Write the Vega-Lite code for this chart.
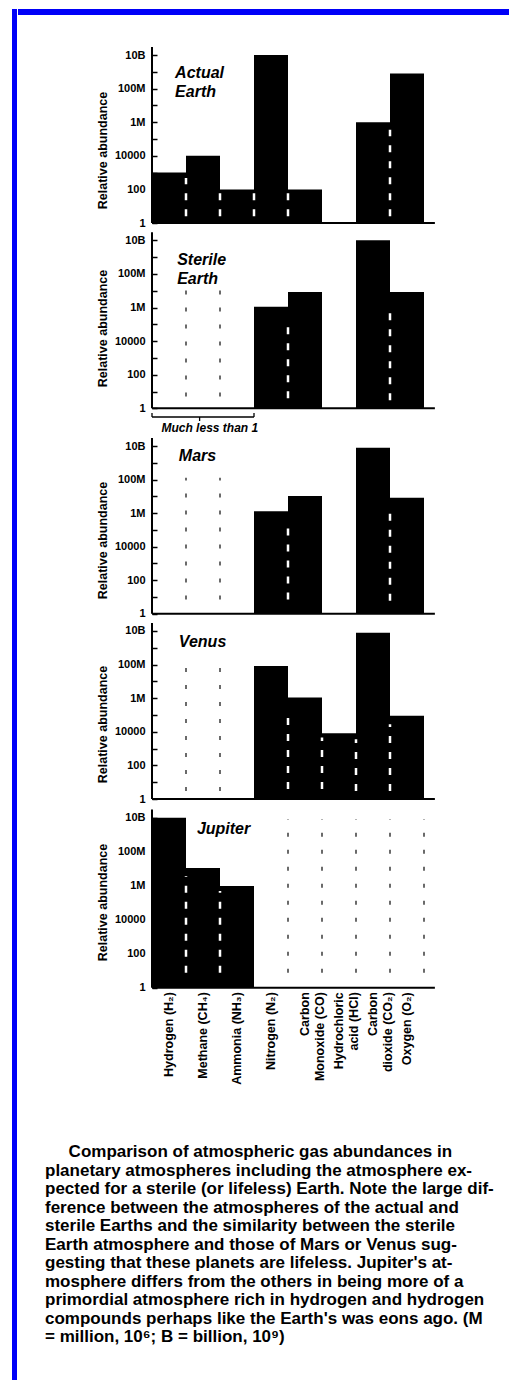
{
  "$schema": "https://vega.github.io/schema/vega-lite/v6.json",
  "background": "#ffffff",
  "padding": {"left": 11, "top": 9, "right": 0, "bottom": 1},
  "autosize": {"type": "pad"},
  "datasets": {
    "bars": [
      {"planet": "Actual Earth", "gas": "Hydrogen (H₂)", "value": 1000},
      {"planet": "Actual Earth", "gas": "Methane (CH₄)", "value": 10000},
      {"planet": "Actual Earth", "gas": "Ammonia (NH₃)", "value": 100},
      {"planet": "Actual Earth", "gas": "Nitrogen (N₂)", "value": 1e10},
      {"planet": "Actual Earth", "gas": "Carbon Monoxide (CO)", "value": 100},
      {"planet": "Actual Earth", "gas": "Carbon dioxide (CO₂)", "value": 1000000},
      {"planet": "Actual Earth", "gas": "Oxygen (O₂)", "value": 800000000},
      {"planet": "Sterile Earth", "gas": "Nitrogen (N₂)", "value": 1100000},
      {"planet": "Sterile Earth", "gas": "Carbon Monoxide (CO)", "value": 8500000},
      {"planet": "Sterile Earth", "gas": "Carbon dioxide (CO₂)", "value": 1e10},
      {"planet": "Sterile Earth", "gas": "Oxygen (O₂)", "value": 8500000},
      {"planet": "Mars", "gas": "Nitrogen (N₂)", "value": 1300000},
      {"planet": "Mars", "gas": "Carbon Monoxide (CO)", "value": 10500000},
      {"planet": "Mars", "gas": "Carbon dioxide (CO₂)", "value": 8000000000},
      {"planet": "Mars", "gas": "Oxygen (O₂)", "value": 8300000},
      {"planet": "Venus", "gas": "Nitrogen (N₂)", "value": 83000000},
      {"planet": "Venus", "gas": "Carbon Monoxide (CO)", "value": 1100000},
      {"planet": "Venus", "gas": "Hydrochloric acid (HCl)", "value": 8300},
      {"planet": "Venus", "gas": "Carbon dioxide (CO₂)", "value": 8000000000},
      {"planet": "Venus", "gas": "Oxygen (O₂)", "value": 90000},
      {"planet": "Jupiter", "gas": "Hydrogen (H₂)", "value": 1e10},
      {"planet": "Jupiter", "gas": "Methane (CH₄)", "value": 11000000},
      {"planet": "Jupiter", "gas": "Ammonia (NH₃)", "value": 950000}
    ],
    "dashes": [
      {"planet": "Actual Earth", "gas": "Methane (CH₄)", "edge": "left", "low": 2.5, "high": 470, "kind": "inside"},
      {"planet": "Actual Earth", "gas": "Ammonia (NH₃)", "edge": "left", "low": 2.5, "high": 60, "kind": "inside"},
      {"planet": "Actual Earth", "gas": "Nitrogen (N₂)", "edge": "left", "low": 2.5, "high": 60, "kind": "inside"},
      {"planet": "Actual Earth", "gas": "Carbon Monoxide (CO)", "edge": "left", "low": 2.5, "high": 60, "kind": "inside"},
      {"planet": "Actual Earth", "gas": "Oxygen (O₂)", "edge": "left", "low": 2.5, "high": 350000, "kind": "inside"},
      {"planet": "Sterile Earth", "gas": "Methane (CH₄)", "edge": "left", "low": 5, "high": 17000000, "kind": "empty"},
      {"planet": "Sterile Earth", "gas": "Ammonia (NH₃)", "edge": "left", "low": 5, "high": 17000000, "kind": "empty"},
      {"planet": "Sterile Earth", "gas": "Carbon Monoxide (CO)", "edge": "left", "low": 4, "high": 180000, "kind": "inside"},
      {"planet": "Sterile Earth", "gas": "Oxygen (O₂)", "edge": "left", "low": 3, "high": 1400000, "kind": "inside"},
      {"planet": "Mars", "gas": "Methane (CH₄)", "edge": "left", "low": 7, "high": 130000000, "kind": "empty"},
      {"planet": "Mars", "gas": "Ammonia (NH₃)", "edge": "left", "low": 7, "high": 130000000, "kind": "empty"},
      {"planet": "Mars", "gas": "Carbon Monoxide (CO)", "edge": "left", "low": 7, "high": 400000, "kind": "inside"},
      {"planet": "Mars", "gas": "Oxygen (O₂)", "edge": "left", "low": 6, "high": 2000000, "kind": "inside"},
      {"planet": "Venus", "gas": "Methane (CH₄)", "edge": "left", "low": 3, "high": 100000000, "kind": "empty"},
      {"planet": "Venus", "gas": "Ammonia (NH₃)", "edge": "left", "low": 3, "high": 100000000, "kind": "empty"},
      {"planet": "Venus", "gas": "Carbon Monoxide (CO)", "edge": "left", "low": 4, "high": 220000, "kind": "inside"},
      {"planet": "Venus", "gas": "Hydrochloric acid (HCl)", "edge": "left", "low": 4, "high": 4600, "kind": "inside"},
      {"planet": "Venus", "gas": "Carbon dioxide (CO₂)", "edge": "left", "low": 3, "high": 3600, "kind": "inside"},
      {"planet": "Venus", "gas": "Oxygen (O₂)", "edge": "left", "low": 3, "high": 28000, "kind": "inside"},
      {"planet": "Jupiter", "gas": "Methane (CH₄)", "edge": "left", "low": 7.6, "high": 3700000, "kind": "inside"},
      {"planet": "Jupiter", "gas": "Ammonia (NH₃)", "edge": "left", "low": 7.6, "high": 490000, "kind": "inside"},
      {"planet": "Jupiter", "gas": "Carbon Monoxide (CO)", "edge": "left", "low": 7.6, "high": 8000000000, "kind": "empty"},
      {"planet": "Jupiter", "gas": "Hydrochloric acid (HCl)", "edge": "left", "low": 7.6, "high": 8000000000, "kind": "empty"},
      {"planet": "Jupiter", "gas": "Carbon dioxide (CO₂)", "edge": "left", "low": 7.6, "high": 8000000000, "kind": "empty"},
      {"planet": "Jupiter", "gas": "Oxygen (O₂)", "edge": "left", "low": 7.6, "high": 8000000000, "kind": "empty"},
      {"planet": "Jupiter", "gas": "Oxygen (O₂)", "edge": "right", "low": 7.6, "high": 8000000000, "kind": "empty"}
    ],
    "panels": [
      {"planet": "Actual Earth", "label": "Actual\nEarth"},
      {"planet": "Sterile Earth", "label": "Sterile\nEarth"},
      {"planet": "Mars", "label": "Mars"},
      {"planet": "Venus", "label": "Venus"},
      {"planet": "Jupiter", "label": "Jupiter"}
    ]
  },
  "config": {
    "view": {"stroke": null},
    "font": "Liberation Sans",
    "axisY": {
      "orient": "left", "offset": -139, "domain": false, "grid": false,
      "tickSize": 5, "tickWidth": 1.5, "tickColor": "#000",
      "labelPadding": 7, "labelFont": "Liberation Sans", "labelFontWeight": "bold", "labelFontSize": 11, "labelColor": "#000",
      "labelOverlap": false, "labelFlush": false,
      "titleFont": "Liberation Sans", "titleFontWeight": "bold", "titleFontSize": 12.5, "titleColor": "#000", "titlePadding": 5
    }
  },
  "hconcat": [
    {
      "width": 5, "height": 1371,
      "view": {"fill": "#0000f8", "stroke": null},
      "data": {"values": [{}]},
      "mark": {"type": "point", "opacity": 0},
      "encoding": {}
    },
    {
      "spacing": 0,
      "vconcat": [
        {
          "width": 493, "height": 6,
          "view": {"fill": "#0000f8", "stroke": null},
          "data": {"values": [{}]},
          "mark": {"type": "point", "opacity": 0},
          "encoding": {}
        },
        {
          "width": 493, "height": 216,
          "layer": [
            {
              "data": {"name": "bars"},
              "transform": [{"filter": "datum.planet == 'Actual Earth'"}],
              "mark": {"type": "bar", "color": "#000"},
              "encoding": {
                "x": {"field": "gas", "type": "nominal", "axis": null, "scale": {"domain": ["Hydrogen (H₂)", "Methane (CH₄)", "Ammonia (NH₃)", "Nitrogen (N₂)", "Carbon Monoxide (CO)", "Hydrochloric acid (HCl)", "Carbon dioxide (CO₂)", "Oxygen (O₂)"], "paddingInner": 0, "paddingOuter": 0, "range": [134, 406]}},
                "y": {"field": "value", "type": "quantitative", "scale": {"type": "log", "domain": [0.3342, 2.404e12], "nice": false},
                  "axis": {"title": "Relative abundance", "titleY": 135, "values": [1, 10, 100, 1000, 10000, 100000, 1000000, 10000000, 100000000, 1000000000, 10000000000],
                    "labelExpr": "datum.value > 5e9 ? '10B' : datum.value > 5e8 ? '' : datum.value > 5e7 ? '100M' : datum.value > 5e6 ? '' : datum.value > 5e5 ? '1M' : datum.value > 5e4 ? '' : datum.value > 5e3 ? '10000' : datum.value > 500 ? '' : datum.value > 50 ? '100' : datum.value > 5 ? '' : '1'"}},
                "y2": {"datum": 1}
              }
            },
            {
              "data": {"name": "dashes"},
              "transform": [{"filter": "datum.planet == 'Actual Earth' && datum.edge == 'left'"}],
              "mark": {"type": "rule"},
              "encoding": {
                "x": {"field": "gas", "type": "nominal", "bandPosition": 0, "axis": null},
                "y": {"field": "low", "type": "quantitative"},
                "y2": {"field": "high"},
                "color": {"field": "kind", "type": "nominal", "scale": {"domain": ["inside", "empty"], "range": ["#ffffff", "#3a3a3a"]}, "legend": null},
                "strokeDash": {"field": "kind", "type": "nominal", "scale": {"domain": ["inside", "empty"], "range": [[7, 9], [4, 13]]}, "legend": null},
                "strokeWidth": {"field": "kind", "type": "ordinal", "scale": {"domain": ["inside", "empty"], "range": [2.5, 1.5]}, "legend": null}
              }
            },
            {
              "data": {"values": [{}]},
              "mark": {"type": "rule", "color": "#000", "strokeWidth": 2},
              "encoding": {
                "x": {"datum": "Hydrogen (H₂)", "type": "nominal", "bandPosition": 0, "axis": null},
                "y": {"datum": 1, "type": "quantitative"},
                "y2": {"datum": 30000000000}
              }
            },
            {
              "data": {"values": [{}]},
              "mark": {"type": "rule", "color": "#000", "strokeWidth": 2},
              "encoding": {
                "x": {"datum": "Hydrogen (H₂)", "type": "nominal", "bandPosition": 0, "axis": null},
                "x2": {"datum": "Oxygen (O₂)", "bandPosition": 1.32},
                "y": {"datum": 1, "type": "quantitative"}
              }
            },
            {
              "data": {"name": "panels"},
              "transform": [{"filter": "datum.planet == 'Actual Earth'"}],
              "mark": {"type": "text", "lineBreak": "\n", "fontStyle": "italic", "fontWeight": "bold", "fontSize": 16, "align": "left", "baseline": "middle", "lineHeight": 19, "color": "#000"},
              "encoding": {
                "text": {"field": "label"},
                "x": {"datum": "Hydrogen (H₂)", "type": "nominal", "bandPosition": 0.68, "axis": null},
                "y": {"datum": 900000000, "type": "quantitative"}
              }
            }
          ]
        },
        {
          "width": 493, "height": 206,
          "layer": [
            {
              "data": {"name": "bars"},
              "transform": [{"filter": "datum.planet == 'Sterile Earth'"}],
              "mark": {"type": "bar", "color": "#000"},
              "encoding": {
                "x": {"field": "gas", "type": "nominal", "axis": null, "scale": {"domain": ["Hydrogen (H₂)", "Methane (CH₄)", "Ammonia (NH₃)", "Nitrogen (N₂)", "Carbon Monoxide (CO)", "Hydrochloric acid (HCl)", "Carbon dioxide (CO₂)", "Oxygen (O₂)"], "paddingInner": 0, "paddingOuter": 0, "range": [134, 406]}},
                "y": {"field": "value", "type": "quantitative", "scale": {"type": "log", "domain": [0.01959, 3.581e10], "nice": false},
                  "axis": {"title": "Relative abundance", "titleY": 97, "values": [1, 10, 100, 1000, 10000, 100000, 1000000, 10000000, 100000000, 1000000000, 10000000000],
                    "labelExpr": "datum.value > 5e9 ? '10B' : datum.value > 5e8 ? '' : datum.value > 5e7 ? '100M' : datum.value > 5e6 ? '' : datum.value > 5e5 ? '1M' : datum.value > 5e4 ? '' : datum.value > 5e3 ? '10000' : datum.value > 500 ? '' : datum.value > 50 ? '100' : datum.value > 5 ? '' : '1'"}},
                "y2": {"datum": 1}
              }
            },
            {
              "data": {"name": "dashes"},
              "transform": [{"filter": "datum.planet == 'Sterile Earth' && datum.edge == 'left'"}],
              "mark": {"type": "rule"},
              "encoding": {
                "x": {"field": "gas", "type": "nominal", "bandPosition": 0, "axis": null},
                "y": {"field": "low", "type": "quantitative"},
                "y2": {"field": "high"},
                "color": {"field": "kind", "type": "nominal", "scale": {"domain": ["inside", "empty"], "range": ["#ffffff", "#3a3a3a"]}, "legend": null},
                "strokeDash": {"field": "kind", "type": "nominal", "scale": {"domain": ["inside", "empty"], "range": [[7, 9], [4, 13]]}, "legend": null},
                "strokeWidth": {"field": "kind", "type": "ordinal", "scale": {"domain": ["inside", "empty"], "range": [2.5, 1.5]}, "legend": null}
              }
            },
            {
              "data": {"values": [{}]},
              "mark": {"type": "rule", "color": "#000", "strokeWidth": 2},
              "encoding": {
                "x": {"datum": "Hydrogen (H₂)", "type": "nominal", "bandPosition": 0, "axis": null},
                "y": {"datum": 1, "type": "quantitative"},
                "y2": {"datum": 30000000000}
              }
            },
            {
              "data": {"values": [{}]},
              "mark": {"type": "rule", "color": "#000", "strokeWidth": 2},
              "encoding": {
                "x": {"datum": "Hydrogen (H₂)", "type": "nominal", "bandPosition": 0, "axis": null},
                "x2": {"datum": "Oxygen (O₂)", "bandPosition": 1.32},
                "y": {"datum": 1, "type": "quantitative"}
              }
            },
            {
              "data": {"values": [{}]},
              "mark": {"type": "rule", "color": "#000", "strokeWidth": 1.3},
              "encoding": {
                "x": {"datum": "Hydrogen (H₂)", "type": "nominal", "bandPosition": 0, "axis": null},
                "x2": {"datum": "Ammonia (NH₃)", "bandPosition": 1},
                "y": {"datum": 0.303, "type": "quantitative"}
              }
            },
            {
              "data": {"values": [{}]},
              "mark": {"type": "rule", "color": "#000", "strokeWidth": 1.3},
              "encoding": {
                "x": {"datum": "Hydrogen (H₂)", "type": "nominal", "bandPosition": 0, "axis": null},
                "y": {"datum": 0.303, "type": "quantitative"},
                "y2": {"datum": 0.52}
              }
            },
            {
              "data": {"values": [{}]},
              "mark": {"type": "rule", "color": "#000", "strokeWidth": 1.3},
              "encoding": {
                "x": {"datum": "Ammonia (NH₃)", "type": "nominal", "bandPosition": 1, "axis": null},
                "y": {"datum": 0.303, "type": "quantitative"},
                "y2": {"datum": 0.52}
              }
            },
            {
              "data": {"values": [{}]},
              "mark": {"type": "rule", "color": "#000", "strokeWidth": 1.3},
              "encoding": {
                "x": {"datum": "Methane (CH₄)", "type": "nominal", "bandPosition": 0.4, "axis": null},
                "y": {"datum": 0.303, "type": "quantitative"},
                "y2": {"datum": 0.175}
              }
            },
            {
              "data": {"values": [{"note": "Much less than 1"}]},
              "mark": {"type": "text", "fontStyle": "italic", "fontWeight": "bold", "fontSize": 12, "align": "center", "baseline": "middle", "color": "#000"},
              "encoding": {
                "text": {"field": "note"},
                "x": {"datum": "Methane (CH₄)", "type": "nominal", "bandPosition": 0.7, "axis": null},
                "y": {"datum": 0.0672, "type": "quantitative"}
              }
            },
            {
              "data": {"name": "panels"},
              "transform": [{"filter": "datum.planet == 'Sterile Earth'"}],
              "mark": {"type": "text", "lineBreak": "\n", "fontStyle": "italic", "fontWeight": "bold", "fontSize": 16, "align": "left", "baseline": "middle", "lineHeight": 19, "color": "#000"},
              "encoding": {
                "text": {"field": "label"},
                "x": {"datum": "Hydrogen (H₂)", "type": "nominal", "bandPosition": 0.74, "axis": null},
                "y": {"datum": 670000000, "type": "quantitative"}
              }
            }
          ]
        },
        {
          "width": 493, "height": 183,
          "layer": [
            {
              "data": {"name": "bars"},
              "transform": [{"filter": "datum.planet == 'Mars'"}],
              "mark": {"type": "bar", "color": "#000"},
              "encoding": {
                "x": {"field": "gas", "type": "nominal", "axis": null, "scale": {"domain": ["Hydrogen (H₂)", "Methane (CH₄)", "Ammonia (NH₃)", "Nitrogen (N₂)", "Carbon Monoxide (CO)", "Hydrochloric acid (HCl)", "Carbon dioxide (CO₂)", "Oxygen (O₂)"], "paddingInner": 0, "paddingOuter": 0, "range": [134, 406]}},
                "y": {"field": "value", "type": "quantitative", "scale": {"type": "log", "domain": [0.3673, 3.0e10], "nice": false},
                  "axis": {"title": "Relative abundance", "titleY": 102, "values": [1, 10, 100, 1000, 10000, 100000, 1000000, 10000000, 100000000, 1000000000, 10000000000],
                    "labelExpr": "datum.value > 5e9 ? '10B' : datum.value > 5e8 ? '' : datum.value > 5e7 ? '100M' : datum.value > 5e6 ? '' : datum.value > 5e5 ? '1M' : datum.value > 5e4 ? '' : datum.value > 5e3 ? '10000' : datum.value > 500 ? '' : datum.value > 50 ? '100' : datum.value > 5 ? '' : '1'"}},
                "y2": {"datum": 1}
              }
            },
            {
              "data": {"name": "dashes"},
              "transform": [{"filter": "datum.planet == 'Mars' && datum.edge == 'left'"}],
              "mark": {"type": "rule"},
              "encoding": {
                "x": {"field": "gas", "type": "nominal", "bandPosition": 0, "axis": null},
                "y": {"field": "low", "type": "quantitative"},
                "y2": {"field": "high"},
                "color": {"field": "kind", "type": "nominal", "scale": {"domain": ["inside", "empty"], "range": ["#ffffff", "#3a3a3a"]}, "legend": null},
                "strokeDash": {"field": "kind", "type": "nominal", "scale": {"domain": ["inside", "empty"], "range": [[7, 9], [4, 13]]}, "legend": null},
                "strokeWidth": {"field": "kind", "type": "ordinal", "scale": {"domain": ["inside", "empty"], "range": [2.5, 1.5]}, "legend": null}
              }
            },
            {
              "data": {"values": [{}]},
              "mark": {"type": "rule", "color": "#000", "strokeWidth": 2},
              "encoding": {
                "x": {"datum": "Hydrogen (H₂)", "type": "nominal", "bandPosition": 0, "axis": null},
                "y": {"datum": 1, "type": "quantitative"},
                "y2": {"datum": 30000000000}
              }
            },
            {
              "data": {"values": [{}]},
              "mark": {"type": "rule", "color": "#000", "strokeWidth": 2},
              "encoding": {
                "x": {"datum": "Hydrogen (H₂)", "type": "nominal", "bandPosition": 0, "axis": null},
                "x2": {"datum": "Oxygen (O₂)", "bandPosition": 1.32},
                "y": {"datum": 1, "type": "quantitative"}
              }
            },
            {
              "data": {"name": "panels"},
              "transform": [{"filter": "datum.planet == 'Mars'"}],
              "mark": {"type": "text", "lineBreak": "\n", "fontStyle": "italic", "fontWeight": "bold", "fontSize": 16, "align": "left", "baseline": "middle", "lineHeight": 19, "color": "#000"},
              "encoding": {
                "text": {"field": "label"},
                "x": {"datum": "Hydrogen (H₂)", "type": "nominal", "bandPosition": 0.79, "axis": null},
                "y": {"datum": 2500000000, "type": "quantitative"}
              }
            }
          ]
        },
        {
          "width": 493, "height": 186,
          "layer": [
            {
              "data": {"name": "bars"},
              "transform": [{"filter": "datum.planet == 'Venus'"}],
              "mark": {"type": "bar", "color": "#000"},
              "encoding": {
                "x": {"field": "gas", "type": "nominal", "axis": null, "scale": {"domain": ["Hydrogen (H₂)", "Methane (CH₄)", "Ammonia (NH₃)", "Nitrogen (N₂)", "Carbon Monoxide (CO)", "Hydrochloric acid (HCl)", "Carbon dioxide (CO₂)", "Oxygen (O₂)"], "paddingInner": 0, "paddingOuter": 0, "range": [134, 406]}},
                "y": {"field": "value", "type": "quantitative", "scale": {"type": "log", "domain": [0.3342, 3.936e10], "nice": false},
                  "axis": {"title": "Relative abundance", "titleY": 103, "values": [1, 10, 100, 1000, 10000, 100000, 1000000, 10000000, 100000000, 1000000000, 10000000000],
                    "labelExpr": "datum.value > 5e9 ? '10B' : datum.value > 5e8 ? '' : datum.value > 5e7 ? '100M' : datum.value > 5e6 ? '' : datum.value > 5e5 ? '1M' : datum.value > 5e4 ? '' : datum.value > 5e3 ? '10000' : datum.value > 500 ? '' : datum.value > 50 ? '100' : datum.value > 5 ? '' : '1'"}},
                "y2": {"datum": 1}
              }
            },
            {
              "data": {"name": "dashes"},
              "transform": [{"filter": "datum.planet == 'Venus' && datum.edge == 'left'"}],
              "mark": {"type": "rule"},
              "encoding": {
                "x": {"field": "gas", "type": "nominal", "bandPosition": 0, "axis": null},
                "y": {"field": "low", "type": "quantitative"},
                "y2": {"field": "high"},
                "color": {"field": "kind", "type": "nominal", "scale": {"domain": ["inside", "empty"], "range": ["#ffffff", "#3a3a3a"]}, "legend": null},
                "strokeDash": {"field": "kind", "type": "nominal", "scale": {"domain": ["inside", "empty"], "range": [[7, 9], [4, 13]]}, "legend": null},
                "strokeWidth": {"field": "kind", "type": "ordinal", "scale": {"domain": ["inside", "empty"], "range": [2.5, 1.5]}, "legend": null}
              }
            },
            {
              "data": {"values": [{}]},
              "mark": {"type": "rule", "color": "#000", "strokeWidth": 2},
              "encoding": {
                "x": {"datum": "Hydrogen (H₂)", "type": "nominal", "bandPosition": 0, "axis": null},
                "y": {"datum": 1, "type": "quantitative"},
                "y2": {"datum": 30000000000}
              }
            },
            {
              "data": {"values": [{}]},
              "mark": {"type": "rule", "color": "#000", "strokeWidth": 2},
              "encoding": {
                "x": {"datum": "Hydrogen (H₂)", "type": "nominal", "bandPosition": 0, "axis": null},
                "x2": {"datum": "Oxygen (O₂)", "bandPosition": 1.32},
                "y": {"datum": 1, "type": "quantitative"}
              }
            },
            {
              "data": {"name": "panels"},
              "transform": [{"filter": "datum.planet == 'Venus'"}],
              "mark": {"type": "text", "lineBreak": "\n", "fontStyle": "italic", "fontWeight": "bold", "fontSize": 16, "align": "left", "baseline": "middle", "lineHeight": 19, "color": "#000"},
              "encoding": {
                "text": {"field": "label"},
                "x": {"datum": "Hydrogen (H₂)", "type": "nominal", "bandPosition": 0.79, "axis": null},
                "y": {"datum": 2200000000, "type": "quantitative"}
              }
            }
          ]
        },
        {
          "width": 493, "height": 336,
          "layer": [
            {
              "data": {"name": "bars"},
              "transform": [{"filter": "datum.planet == 'Jupiter'"}],
              "mark": {"type": "bar", "color": "#000"},
              "encoding": {
                "x": {"field": "gas", "type": "nominal", "scale": {"domain": ["Hydrogen (H₂)", "Methane (CH₄)", "Ammonia (NH₃)", "Nitrogen (N₂)", "Carbon Monoxide (CO)", "Hydrochloric acid (HCl)", "Carbon dioxide (CO₂)", "Oxygen (O₂)"], "paddingInner": 0, "paddingOuter": 0, "range": [134, 406]},
                  "axis": {"title": null, "orient": "bottom", "offset": -155.3, "domain": false, "ticks": false, "labelAngle": 270, "labelAlign": "right", "labelBaseline": "middle", "labelPadding": 4, "labelFont": "Liberation Sans", "labelFontWeight": "bold", "labelFontSize": 12.5, "labelColor": "#000", "labelLineHeight": 15, "labelOverlap": false, "labelLimit": 300,
                    "labelExpr": "indexof(['Carbon Monoxide (CO)','Hydrochloric acid (HCl)','Carbon dioxide (CO₂)'], datum.value) >= 0 ? [slice(datum.value, 0, indexof(datum.value, ' ')), slice(datum.value, indexof(datum.value, ' ') + 1)] : datum.label"}},
                "y": {"field": "value", "type": "quantitative", "scale": {"type": "log", "domain": [7.33e-10, 4.256e10], "nice": false},
                  "axis": {"title": "Relative abundance", "titleY": 95, "values": [1, 10, 100, 1000, 10000, 100000, 1000000, 10000000, 100000000, 1000000000, 10000000000],
                    "labelExpr": "datum.value > 5e9 ? '10B' : datum.value > 5e8 ? '' : datum.value > 5e7 ? '100M' : datum.value > 5e6 ? '' : datum.value > 5e5 ? '1M' : datum.value > 5e4 ? '' : datum.value > 5e3 ? '10000' : datum.value > 500 ? '' : datum.value > 50 ? '100' : datum.value > 5 ? '' : '1'"}},
                "y2": {"datum": 1}
              }
            },
            {
              "data": {"name": "dashes"},
              "transform": [{"filter": "datum.planet == 'Jupiter' && datum.edge == 'left'"}],
              "mark": {"type": "rule"},
              "encoding": {
                "x": {"field": "gas", "type": "nominal", "bandPosition": 0},
                "y": {"field": "low", "type": "quantitative"},
                "y2": {"field": "high"},
                "color": {"field": "kind", "type": "nominal", "scale": {"domain": ["inside", "empty"], "range": ["#ffffff", "#3a3a3a"]}, "legend": null},
                "strokeDash": {"field": "kind", "type": "nominal", "scale": {"domain": ["inside", "empty"], "range": [[7, 9], [4, 13]]}, "legend": null},
                "strokeWidth": {"field": "kind", "type": "ordinal", "scale": {"domain": ["inside", "empty"], "range": [2.5, 1.5]}, "legend": null}
              }
            },
            {
              "data": {"name": "dashes"},
              "transform": [{"filter": "datum.planet == 'Jupiter' && datum.edge == 'right'"}],
              "mark": {"type": "rule"},
              "encoding": {
                "x": {"field": "gas", "type": "nominal", "bandPosition": 1},
                "y": {"field": "low", "type": "quantitative"},
                "y2": {"field": "high"},
                "color": {"field": "kind", "type": "nominal", "scale": {"domain": ["inside", "empty"], "range": ["#ffffff", "#3a3a3a"]}, "legend": null},
                "strokeDash": {"field": "kind", "type": "nominal", "scale": {"domain": ["inside", "empty"], "range": [[7, 9], [4, 13]]}, "legend": null},
                "strokeWidth": {"field": "kind", "type": "ordinal", "scale": {"domain": ["inside", "empty"], "range": [2.5, 1.5]}, "legend": null}
              }
            },
            {
              "data": {"values": [{}]},
              "mark": {"type": "rule", "color": "#000", "strokeWidth": 2},
              "encoding": {
                "x": {"datum": "Hydrogen (H₂)", "type": "nominal", "bandPosition": 0},
                "y": {"datum": 1, "type": "quantitative"},
                "y2": {"datum": 30000000000}
              }
            },
            {
              "data": {"values": [{}]},
              "mark": {"type": "rule", "color": "#000", "strokeWidth": 2},
              "encoding": {
                "x": {"datum": "Hydrogen (H₂)", "type": "nominal", "bandPosition": 0},
                "x2": {"datum": "Oxygen (O₂)", "bandPosition": 1.32},
                "y": {"datum": 1, "type": "quantitative"}
              }
            },
            {
              "data": {"name": "panels"},
              "transform": [{"filter": "datum.planet == 'Jupiter'"}],
              "mark": {"type": "text", "lineBreak": "\n", "fontStyle": "italic", "fontWeight": "bold", "fontSize": 16, "align": "left", "baseline": "middle", "lineHeight": 19, "color": "#000"},
              "encoding": {
                "text": {"field": "label"},
                "x": {"datum": "Methane (CH₄)", "type": "nominal", "bandPosition": 0.32},
                "y": {"datum": 2200000000, "type": "quantitative"}
              }
            }
          ]
        },
        {
          "width": 493, "height": 1,
          "view": {"fill": "#0000f8", "stroke": null},
          "title": {
            "text": [
              "\u200b\u00a0\u00a0\u00a0\u00a0\u00a0Comparison of atmospheric gas abundances in",
              "planetary atmospheres including the atmosphere ex-",
              "pected for a sterile (or lifeless) Earth. Note the large dif-",
              "ference between the atmospheres of the actual and",
              "sterile Earths and the similarity between the sterile",
              "Earth atmosphere and those of Mars or Venus sug-",
              "gesting that these planets are lifeless. Jupiter's at-",
              "mosphere differs from the others in being more of a",
              "primordial atmosphere rich in hydrogen and hydrogen",
              "compounds perhaps like the Earth's was eons ago. (M",
              "= million, 10⁶; B = billion, 10⁹)"
            ],
            "orient": "top", "anchor": "start", "align": "left", "frame": "group", "dx": 27, "offset": 35.4,
            "font": "Liberation Sans", "fontSize": 17, "fontWeight": "bold", "lineHeight": 18.5, "color": "#000"
          },
          "data": {"values": [{}]},
          "mark": {"type": "point", "opacity": 0},
          "encoding": {}
        }
      ]
    }
  ],
  "spacing": 0
}
